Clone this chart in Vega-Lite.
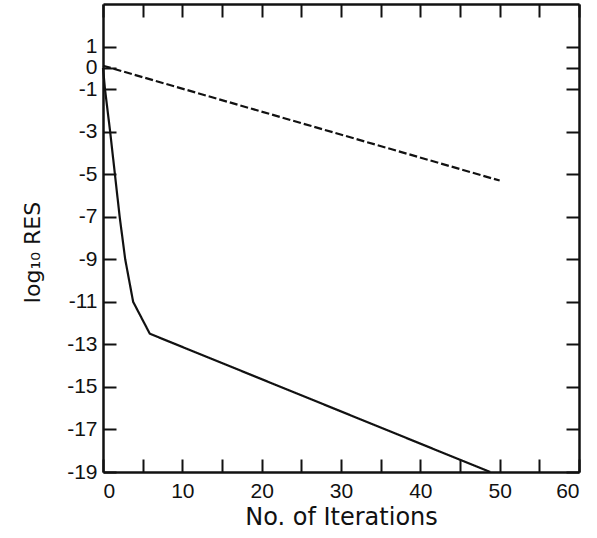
{
  "$schema": "https://vega.github.io/schema/vega-lite/v6.json",
  "autosize": {"type": "none"},
  "padding": {"left": 103, "top": 4, "right": 18, "bottom": 66},
  "width": 476,
  "height": 468,
  "background": "white",
  "config": {
    "view": {"stroke": null},
    "axis": {
      "grid": false,
      "domainColor": "#111",
      "domainWidth": 2.5,
      "tickColor": "#111",
      "tickWidth": 2,
      "labelFont": "Liberation Sans",
      "labelFontSize": 21,
      "labelColor": "#111",
      "titleFont": "DejaVu Sans",
      "titleFontSize": 22,
      "titleFontWeight": "normal",
      "titleColor": "#111"
    }
  },
  "data": {
    "values": [
      {"iter": 0, "logres": 0, "series": "solid"},
      {"iter": 0.25, "logres": -1, "series": "solid"},
      {"iter": 0.9, "logres": -3, "series": "solid"},
      {"iter": 1.5, "logres": -5, "series": "solid"},
      {"iter": 2.1, "logres": -7, "series": "solid"},
      {"iter": 2.8, "logres": -9, "series": "solid"},
      {"iter": 3.8, "logres": -11, "series": "solid"},
      {"iter": 5.9, "logres": -12.5, "series": "solid"},
      {"iter": 48.8, "logres": -19, "series": "solid"},
      {"iter": 0, "logres": 0.1, "series": "dashed"},
      {"iter": 50, "logres": -5.3, "series": "dashed"}
    ]
  },
  "resolve": {"axis": {"x": "independent", "y": "independent"}},
  "layer": [
    {
      "mark": {"type": "line", "color": "#111", "strokeWidth": 2.2},
      "encoding": {
        "x": {
          "field": "iter", "type": "quantitative",
          "scale": {"domain": [0, 60], "nice": false, "zero": false},
          "axis": {
            "orient": "bottom",
            "values": [0, 5, 10, 15, 20, 25, 30, 35, 40, 45, 50, 55, 60],
            "labelExpr": "datum.value % 10 == 0 ? datum.label : ''",
            "tickSize": -13,
            "labelPadding": 21,
            "title": "No. of Iterations",
            "titleFontSize": 24,
            "titlePadding": 4
          }
        },
        "y": {
          "field": "logres", "type": "quantitative",
          "scale": {"domain": [-19, 3], "nice": false, "zero": false},
          "axis": {
            "orient": "left",
            "values": [1, 0, -1, -3, -5, -7, -9, -11, -13, -15, -17, -19],
            "labelExpr": "replace(datum.label, '−', '-')",
            "tickSize": -13,
            "labelPadding": 19,
            "title": "log₁₀ RES",
            "titlePadding": 22,
            "titleY": 248
          }
        },
        "detail": {"field": "series"},
        "strokeDash": {
          "field": "series", "type": "nominal",
          "scale": {"domain": ["solid", "dashed"], "range": [[1, 0], [8, 3]]},
          "legend": null
        }
      }
    },
    {
      "mark": {"type": "point", "opacity": 0},
      "encoding": {
        "x": {
          "field": "iter", "type": "quantitative",
          "axis": {
            "orient": "top",
            "values": [0, 5, 10, 15, 20, 25, 30, 35, 40, 45, 50, 55, 60],
            "labels": false,
            "tickSize": -13,
            "title": null
          }
        },
        "y": {
          "field": "logres", "type": "quantitative",
          "axis": {
            "orient": "right",
            "values": [1, 0, -1, -3, -5, -7, -9, -11, -13, -15, -17, -19],
            "labels": false,
            "tickSize": -13,
            "title": null
          }
        }
      }
    }
  ]
}
